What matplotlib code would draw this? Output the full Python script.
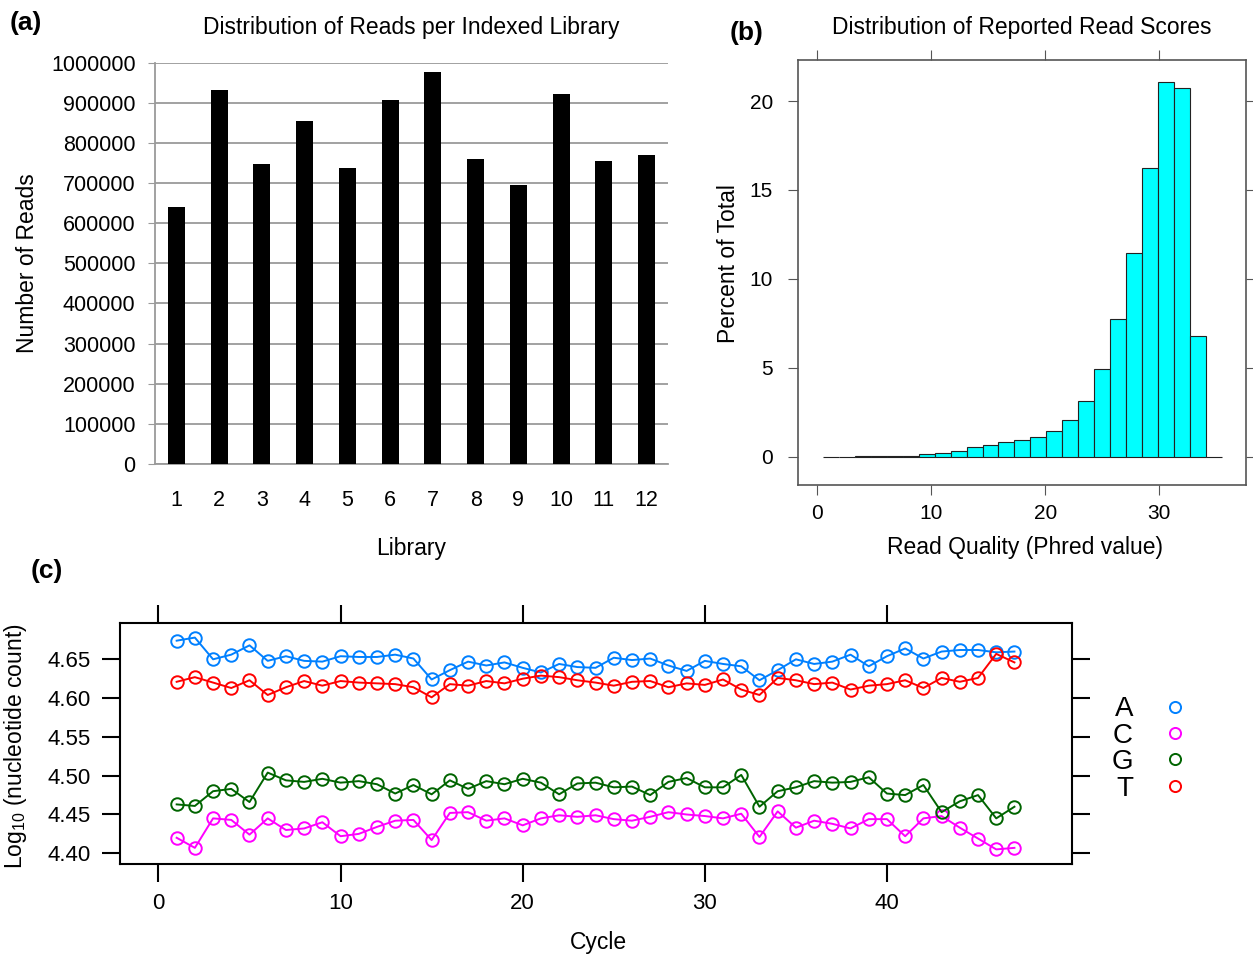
import numpy as np
import matplotlib
matplotlib.use("Agg")
import matplotlib.pyplot as plt
from matplotlib.lines import Line2D

plt.rcParams.update({
    'font.family': ['Liberation Sans', 'DejaVu Sans'],
    'mathtext.default': 'regular',
    'font.size': 14,
})

# ---- panel (a): reads per indexed library
libraries = [str(i) for i in range(1, 13)]
reads = [640600, 932600, 748000, 855300, 738000, 906900,
         976800, 758900, 695500, 922600, 754700, 769600]
read_ticks = list(range(0, 1000001, 100000))

# ---- panel (b): read quality histogram (25 bins, 0.5 .. 35.5)
bin_edges = [0.5 + 1.4 * k for k in range(26)]
bin_pct = [0.005, 0.01, 0.015, 0.02, 0.03, 0.05,
           0.13, 0.21, 0.34, 0.53, 0.68, 0.81, 0.94, 1.09, 1.46,
           2.08, 3.14, 4.96, 7.74, 11.46, 16.23, 21.07, 20.71, 6.78, 0.0]

# ---- panel (c): log10 nucleotide count per cycle
cycles = list(range(1, 48))
base_A = [4.674, 4.678, 4.650, 4.656, 4.668, 4.648, 4.654, 4.648, 4.647, 4.654,
          4.653, 4.653, 4.656, 4.651, 4.624, 4.636, 4.647, 4.642, 4.646, 4.639,
          4.633, 4.644, 4.640, 4.639, 4.652, 4.649, 4.651, 4.642, 4.635, 4.648,
          4.644, 4.641, 4.623, 4.636, 4.650, 4.644, 4.647, 4.656, 4.641, 4.654,
          4.664, 4.651, 4.660, 4.662, 4.662, 4.659, 4.660]
base_C = [4.420, 4.407, 4.445, 4.443, 4.424, 4.445, 4.430, 4.432, 4.440, 4.422,
          4.425, 4.434, 4.442, 4.443, 4.417, 4.452, 4.453, 4.442, 4.445, 4.436,
          4.445, 4.449, 4.447, 4.449, 4.444, 4.442, 4.447, 4.453, 4.450, 4.448,
          4.445, 4.451, 4.421, 4.454, 4.433, 4.442, 4.438, 4.432, 4.444, 4.444,
          4.422, 4.445, 4.448, 4.433, 4.419, 4.405, 4.407]
base_G = [4.463, 4.461, 4.480, 4.483, 4.466, 4.504, 4.494, 4.492, 4.496, 4.491,
          4.493, 4.489, 4.477, 4.488, 4.476, 4.494, 4.483, 4.493, 4.489, 4.496,
          4.491, 4.476, 4.490, 4.491, 4.485, 4.486, 4.475, 4.492, 4.497, 4.485,
          4.485, 4.501, 4.460, 4.480, 4.485, 4.493, 4.491, 4.492, 4.498, 4.477,
          4.475, 4.488, 4.453, 4.467, 4.475, 4.445, 4.460]
base_T = [4.621, 4.627, 4.620, 4.613, 4.623, 4.604, 4.614, 4.622, 4.616, 4.622,
          4.620, 4.619, 4.618, 4.614, 4.601, 4.618, 4.616, 4.622, 4.619, 4.625,
          4.629, 4.627, 4.623, 4.620, 4.616, 4.621, 4.622, 4.614, 4.619, 4.617,
          4.624, 4.611, 4.604, 4.626, 4.623, 4.618, 4.620, 4.611, 4.616, 4.618,
          4.623, 4.613, 4.626, 4.621, 4.626, 4.657, 4.646]
base_names = ['A', 'C', 'G', 'T']
base_colors = ['#0080ff', '#ff00ff', '#006400', '#ff0000']

W, H = 1253, 956
fig = plt.figure(figsize=(W / 100, H / 100), dpi=100)


def frac(l, t, r, b):
    return [l / W, 1 - b / H, (r - l) / W, (b - t) / H]


# -------------------------------------------------------------------------
# (a) bar chart, Excel look
# -------------------------------------------------------------------------
ax_a = fig.add_axes(frac(155, 62.7, 668, 464))
x = np.arange(1, 13)
ax_a.bar(x, reads, width=0.40, color='black', zorder=3)
ax_a.set_xlim(0.5, 12.5)
ax_a.set_ylim(0, 1000000)
ax_a.set_yticks(read_ticks)
ax_a.set_yticklabels([str(v) for v in read_ticks])
ax_a.set_xticks(x)
ax_a.set_xticklabels(libraries)
ax_a.yaxis.grid(True, color='#9a9a9a', lw=1.3, zorder=0)
for s in ['top', 'right']:
    ax_a.spines[s].set_visible(False)
for s in ['left', 'bottom']:
    ax_a.spines[s].set_color('#9a9a9a')
    ax_a.spines[s].set_linewidth(1.3)
ax_a.tick_params(axis='y', length=5, color='#9a9a9a', pad=9, labelsize=15.5)
ax_a.tick_params(axis='x', length=0, pad=19, labelsize=15.5)
ax_a.set_title("Distribution of Reads per Indexed Library", fontsize=16.5, pad=21)
ax_a.set_xlabel("Library", fontsize=16.5, va='center')
ax_a.xaxis.set_label_coords(0.5, -0.2095)
ax_a.set_ylabel("Number of Reads", fontsize=16.5, va='center')
ax_a.yaxis.set_label_coords(-0.248, 0.5)

# -------------------------------------------------------------------------
# (b) histogram, lattice look
# -------------------------------------------------------------------------
ax_b = fig.add_axes(frac(798, 60, 1246, 485))
edges = np.array(bin_edges)
ax_b.bar(edges[:-1], bin_pct, width=np.diff(edges), align='edge',
         color='#00ffff', edgecolor='#222222', linewidth=0.8)
ax_b.set_xlim(-1.71, 37.64)
ax_b.set_ylim(-1.59, 22.31)
ax_b.set_xticks([0, 10, 20, 30])
ax_b.set_yticks([0, 5, 10, 15, 20])
for s in ax_b.spines.values():
    s.set_color('#555555')
    s.set_linewidth(1.2)
ax_b.tick_params(axis='both', which='both', direction='out', length=7,
                 color='#555555', labelsize=15, top=True, right=True)
ax_b.tick_params(axis='y', pad=11)
ax_b.tick_params(axis='x', pad=7)
ax_b.set_title("Distribution of Reported Read Scores", fontsize=16.5, pad=19)
ax_b.set_xlabel("Read Quality (Phred value)", fontsize=16.5, va='center')
ax_b.xaxis.set_label_coords(0.507, -0.148)
ax_b.set_ylabel("Percent of Total", fontsize=16.5, va='center')
ax_b.yaxis.set_label_coords(-0.156, 0.52)

# -------------------------------------------------------------------------
# (c) per-cycle nucleotide counts
# -------------------------------------------------------------------------
ax_c = fig.add_axes(frac(120, 623.3, 1072, 864.3))
series = [base_A, base_C, base_G, base_T]
handles = []
for name, vals, col in zip(base_names, series, base_colors):
    ax_c.plot(cycles, vals, color=col, lw=1.4, marker='o', markersize=9,
              markerfacecolor='none', markeredgewidth=1.4)
    handles.append(Line2D([], [], color=col, marker='o', linestyle='none',
                          markersize=8, markerfacecolor='none', markeredgewidth=1.4))
ax_c.set_xlim(-2.11, 50.16)
ax_c.set_ylim(4.3858, 4.6964)
ax_c.set_xticks([0, 10, 20, 30, 40])
ax_c.set_yticks([4.40, 4.45, 4.50, 4.55, 4.60, 4.65])
ax_c.set_yticklabels(['4.40', '4.45', '4.50', '4.55', '4.60', '4.65'])
for s in ax_c.spines.values():
    s.set_color('black')
    s.set_linewidth(1.5)
ax_c.tick_params(axis='both', direction='out', length=13, width=1.5,
                 labelsize=16, top=True, right=True)
ax_c.tick_params(axis='y', pad=8)
ax_c.tick_params(axis='x', pad=8)
ax_c.set_xlabel("Cycle", fontsize=16.5, va='center')
ax_c.xaxis.set_label_coords(0.503, -0.3265)
ax_c.set_ylabel(r"Log$_{10}$ (nucleotide count)", fontsize=16.5, va='center')
ax_c.yaxis.set_label_coords(-0.11, 0.49)
ax_c.legend(handles, base_names, loc='center', bbox_to_anchor=(1150 / W, 1 - 749 / H),
            bbox_transform=fig.transFigure, frameon=False, markerfirst=False,
            fontsize=20, labelspacing=0.015, handletextpad=1.0, handlelength=1.0,
            borderpad=0)

# panel letters
fig.text(10 / W, 1 - 23 / H, "(a)", fontsize=19, fontweight='bold', va='center')
fig.text(730 / W, 1 - 33 / H, "(b)", fontsize=19, fontweight='bold', va='center')
fig.text(31 / W, 1 - 571 / H, "(c)", fontsize=19, fontweight='bold', va='center')

fig.savefig("out.png", dpi=100)
